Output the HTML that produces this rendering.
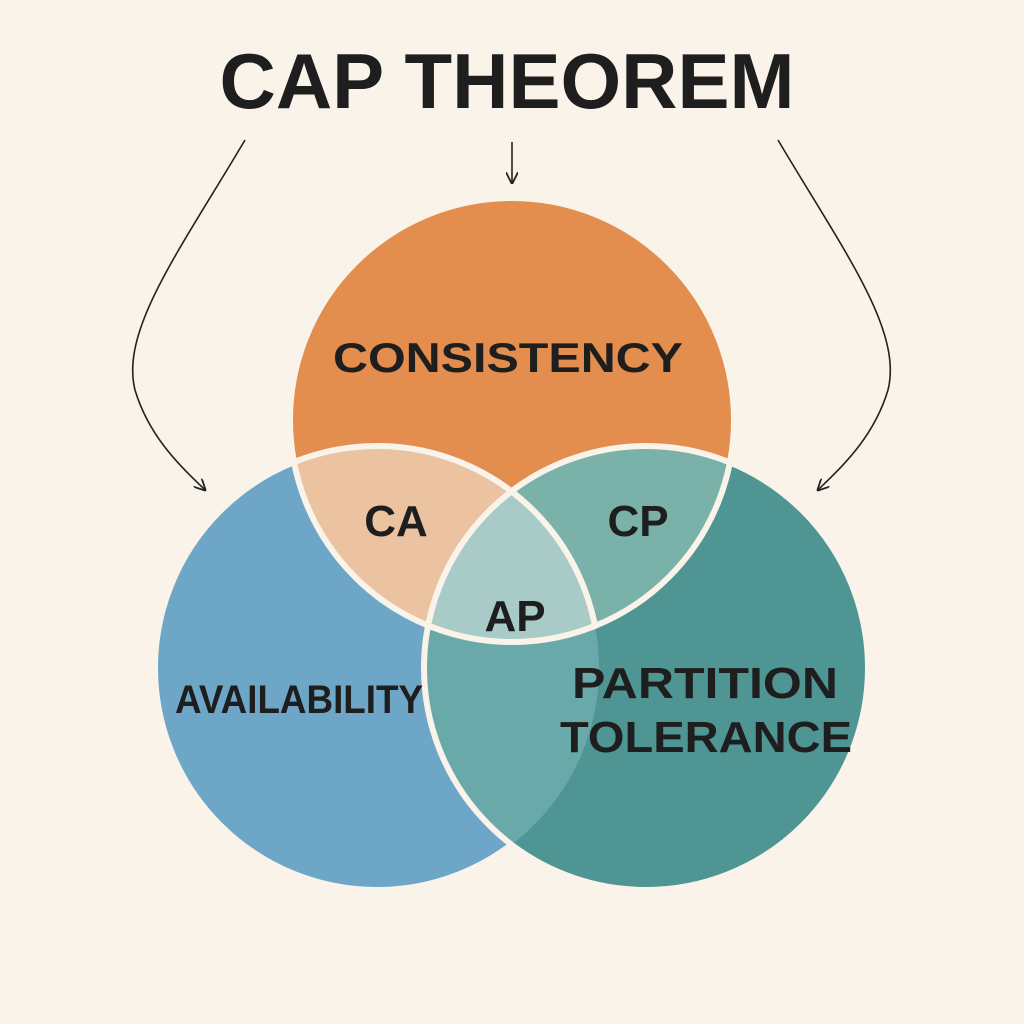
<!DOCTYPE html>
<html><head><style>html,body{margin:0;padding:0;background:#F9F3EA;}svg{display:block}</style></head>
<body>
<svg width="1024" height="1024" viewBox="0 0 1024 1024" xmlns="http://www.w3.org/2000/svg">
<defs>
<clipPath id="cO"><circle cx="512" cy="420" r="222"/></clipPath>
<clipPath id="cB"><circle cx="377" cy="668" r="222"/></clipPath>
<clipPath id="cT"><circle cx="646" cy="668" r="222"/></clipPath>
<marker id="ah" viewBox="0 0 10 10" refX="9" refY="5" markerWidth="12" markerHeight="12" orient="auto" markerUnits="userSpaceOnUse"><path d="M0,0 L10,5 L0,10" fill="none" stroke="#222" stroke-width="1.5"/></marker>
</defs>
<rect width="1024" height="1024" fill="#F9F3EA"/>
<circle cx="377" cy="668" r="222" fill="#6DA6C7" stroke="#F9F3EA" stroke-width="6"/>
<circle cx="646" cy="668" r="222" fill="#4F9594"/>
<g clip-path="url(#cB)"><circle cx="646" cy="668" r="222" fill="#6AA9AA"/></g>
<circle cx="512" cy="420" r="222" fill="#E38D4E"/>
<g clip-path="url(#cO)"><circle cx="377" cy="668" r="222" fill="#EBC3A0"/><circle cx="646" cy="668" r="222" fill="#7AB1A8"/>
<g clip-path="url(#cB)"><circle cx="646" cy="668" r="222" fill="#A8CBC8"/></g>
<circle cx="377" cy="668" r="222" fill="none" stroke="#F9F3EA" stroke-width="6"/></g>
<g fill="none" stroke="#F9F3EA" stroke-width="6">
<circle cx="646" cy="668" r="222"/><circle cx="512" cy="420" r="222"/>
</g>
<g fill="none" stroke="#222" stroke-width="1.6">
<path d="M245,140 C180,250 120,330 135,390 C150,440 185,470 205,490" marker-end="url(#ah)"/>
<path d="M778,140 C843,250 903,330 888,390 C873,440 838,470 818,490" marker-end="url(#ah)"/>
<path d="M512,142 L512,183" marker-end="url(#ah)"/>
</g>
<g font-family="Liberation Sans, sans-serif" font-weight="bold" fill="#1E1E1E" text-anchor="middle">
<text x="507" y="108" font-size="78" textLength="575" lengthAdjust="spacingAndGlyphs">CAP THEOREM</text>
<text x="508" y="372" font-size="42" textLength="350" lengthAdjust="spacingAndGlyphs">CONSISTENCY</text>
<text x="396" y="536" font-size="44">CA</text>
<text x="638" y="536" font-size="44">CP</text>
<text x="515" y="631" font-size="44">AP</text>
<text x="299" y="713" font-size="40" textLength="248" lengthAdjust="spacingAndGlyphs">AVAILABILITY</text>
<text x="705" y="698" font-size="44" textLength="266" lengthAdjust="spacingAndGlyphs">PARTITION</text>
<text x="706" y="752" font-size="44" textLength="292" lengthAdjust="spacingAndGlyphs">TOLERANCE</text>
</g>
</svg>
</body></html>
